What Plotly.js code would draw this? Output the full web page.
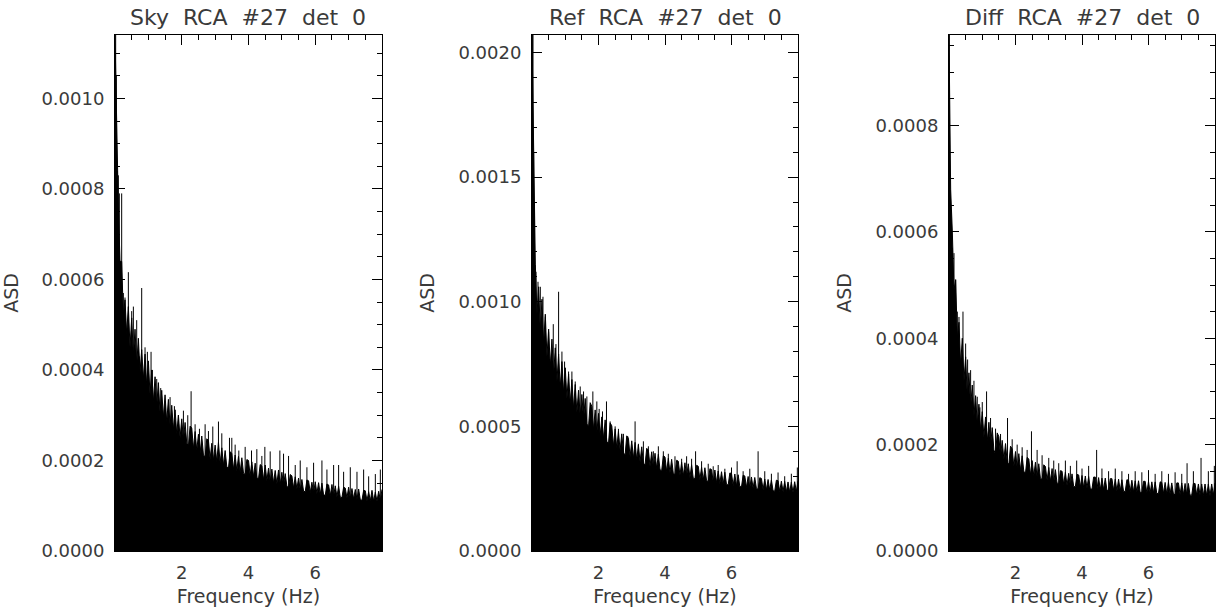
<!DOCTYPE html>
<html>
<head>
<meta charset="utf-8">
<script src="https://cdn.plot.ly/plotly-3.0.1.min.js"></script>
<style>
  html, body { margin: 0; padding: 0; background: #fff; }
  #chart { width: 1216px; height: 612px; }
</style>
</head>
<body>
<div id="chart"></div>
<script>
// ---------------- DATA (ASD in units of 1e-6) ----------------
const panelTitles = ["Sky\u00a0\u00a0RCA\u00a0\u00a0#27\u00a0\u00a0det\u00a0\u00a00",
                     "Ref\u00a0\u00a0RCA\u00a0\u00a0#27\u00a0\u00a0det\u00a0\u00a00",
                     "Diff\u00a0\u00a0RCA\u00a0\u00a0#27\u00a0\u00a0det\u00a0\u00a00"];
const xTitle = "Frequency (Hz)";
const yTitle = "ASD";
const freqTickVals = [2, 4, 6];
const freqTickText = ["2", "4", "6"];

// Ragged upper edge of the dense noise band, one value every 0.05 Hz from 0 to 8 Hz (x1e-6)
const coreStartHz = 0;
const coreStepHz = 0.05;
const skyCore = [
  1140, 900, 760, 640, 640, 520, 555, 480, 540, 450, 515, 430, 490, 410, 470, 395, 445, 380, 435, 365,
  420, 345, 400, 330, 385, 320, 372, 305, 355, 295, 345, 285, 335, 278, 322, 268, 312, 258, 300, 250,
  292, 244, 284, 238, 232, 276, 272, 226, 264, 222, 258, 216, 254, 212, 208, 248, 244, 204, 238, 200,
  234, 197, 240, 194, 228, 189, 222, 186, 183, 219, 216, 180, 212, 177, 209, 174, 206, 172, 169, 202,
  200, 167, 197, 164, 194, 162, 159, 191, 188, 157, 190, 155, 183, 153, 181, 150, 178, 148, 179, 147,
  174, 145, 171, 143, 140, 169, 166, 139, 164, 137, 161, 134, 158, 132, 131, 157, 155, 129, 152, 128,
  153, 127, 151, 125, 150, 124, 123, 148, 146, 122, 147, 121, 144, 120, 143, 119, 118, 141, 139, 117,
  141, 116, 138, 115, 136, 114, 137, 113, 112, 134, 133, 111, 131, 111, 134, 110, 130, 110, 132, 112,
  136];
const refCore = [
  2070, 1500, 1150, 950, 1060, 880, 1010, 830, 950, 780, 890, 740, 850, 705, 815, 680, 790, 655, 760, 635,
  735, 612, 710, 592, 688, 572, 668, 556, 645, 540, 628, 525, 612, 510, 498, 595, 580, 486, 566, 474,
  552, 462, 538, 450, 526, 440, 430, 514, 502, 420, 490, 412, 480, 403, 470, 394, 385, 462, 452, 378,
  442, 371, 436, 364, 426, 357, 418, 352, 346, 412, 404, 340, 398, 335, 392, 331, 388, 326, 322, 382,
  377, 318, 372, 314, 368, 311, 307, 364, 360, 304, 356, 301, 354, 298, 350, 295, 346, 292, 290, 344,
  340, 287, 336, 284, 334, 282, 279, 330, 327, 276, 325, 274, 321, 271, 318, 268, 316, 267, 265, 313,
  311, 263, 309, 260, 306, 259, 257, 304, 301, 255, 299, 253, 297, 252, 295, 250, 248, 294, 291, 246,
  289, 245, 287, 244, 285, 242, 240, 284, 282, 239, 280, 238, 279, 237, 277, 236, 276, 235, 278, 238,
  282];
const diffCore = [
  970, 680, 600, 490, 510, 400, 430, 350, 400, 320, 365, 290, 335, 270, 312, 254, 292, 238, 276, 226,
  262, 215, 252, 206, 242, 198, 232, 190, 182, 222, 215, 177, 208, 172, 202, 167, 163, 197, 192, 159,
  187, 156, 183, 152, 179, 150, 146, 176, 173, 143, 170, 141, 167, 139, 164, 136, 135, 162, 159, 133,
  157, 131, 155, 129, 153, 128, 126, 151, 150, 125, 148, 123, 146, 122, 145, 121, 121, 144, 143, 120,
  142, 119, 141, 118, 140, 117, 116, 139, 139, 116, 138, 115, 137, 115, 137, 114, 114, 136, 136, 114,
  135, 113, 135, 113, 134, 112, 112, 134, 133, 112, 133, 111, 132, 111, 132, 110, 110, 131, 131, 109,
  131, 109, 130, 109, 130, 108, 108, 130, 129, 108, 129, 107, 129, 107, 128, 107, 106, 128, 128, 106,
  128, 106, 127, 106, 127, 105, 105, 127, 127, 105, 126, 105, 126, 104, 126, 104, 126, 104, 126, 105,
  128];

// Individual spectral spikes standing above the band (Hz, x1e-6)
const skySpikeHz = [0.02, 0.04, 0.07, 0.10, 0.13, 0.20, 0.25, 0.30, 0.40, 0.50, 0.55, 0.65, 0.73, 0.80, 0.90, 0.97,
  1.08, 1.12, 1.25, 1.37, 1.50, 1.65, 1.78, 1.90, 2.05, 2.18, 2.28, 2.40, 2.53, 2.70, 2.80, 2.93,
  3.10, 3.20, 3.43, 3.50, 3.60, 3.71, 3.90, 4.09, 4.25, 4.40, 4.49, 4.65, 4.94, 5.05, 5.20, 5.40,
  5.55, 5.75, 5.95, 6.20, 6.35, 6.55, 6.70, 6.85, 7.05, 7.25, 7.45, 7.60, 7.80, 7.95];
const skySpikeVal = [1140, 1050, 840, 830, 790, 790, 570, 560, 616, 530, 540, 510, 430, 581, 450, 440,
  440, 400, 380, 360, 330, 340, 320, 300, 310, 300, 353, 280, 270, 280, 265, 275,
  286, 260, 250, 250, 235, 222, 230, 222, 225, 210, 230, 220, 222, 215, 210, 190,
  200, 185, 195, 200, 180, 190, 190, 175, 185, 175, 180, 165, 170, 180];
const refSpikeHz = [0.01, 0.03, 0.05, 0.07, 0.09, 0.12, 0.18, 0.25, 0.33, 0.40, 0.50, 0.64, 0.72, 0.80, 0.90, 0.98,
  1.10, 1.20, 1.30, 1.45, 1.55, 1.65, 1.83, 1.95, 2.02, 2.12, 2.24, 2.35, 2.50, 2.60, 2.75, 2.88,
  3.10, 3.20, 3.35, 3.50, 3.65, 3.80, 3.95, 4.10, 4.30, 4.50, 4.65, 4.80, 4.92, 5.10, 5.30, 5.45,
  5.60, 5.80, 6.00, 6.17, 6.35, 6.55, 6.80, 7.00, 7.20, 7.40, 7.60, 7.80, 7.98];
const refSpikeVal = [2070, 2070, 1600, 1400, 1150, 1120, 1080, 1060, 1020, 940, 880, 910, 830, 1040, 800, 760,
  720, 720, 680, 660, 640, 620, 640, 600, 570, 560, 600, 520, 500, 490, 470, 460,
  520, 430, 440, 420, 400, 420, 400, 390, 380, 370, 380, 370, 400, 360, 350, 340,
  345, 330, 335, 360, 320, 330, 400, 320, 310, 315, 300, 310, 335];
const diffSpikeHz = [0.01, 0.03, 0.06, 0.10, 0.15, 0.20, 0.25, 0.30, 0.42, 0.50, 0.56, 0.65, 0.75, 0.85, 0.93, 1.00,
  1.13, 1.25, 1.40, 1.55, 1.76, 1.90, 2.05, 2.20, 2.35, 2.48, 2.65, 2.80, 3.00, 3.15, 3.30, 3.50,
  3.65, 3.84, 4.00, 4.20, 4.44, 4.60, 4.80, 5.00, 5.20, 5.40, 5.60, 5.80, 6.00, 6.20, 6.40, 6.60,
  6.80, 7.00, 7.16, 7.35, 7.58, 7.80, 7.98];
const diffSpikeVal = [970, 680, 640, 570, 560, 510, 450, 440, 450, 390, 360, 340, 320, 290, 270, 280,
  300, 250, 230, 220, 250, 210, 200, 195, 190, 225, 190, 180, 175, 170, 165, 170,
  160, 170, 155, 160, 190, 155, 150, 155, 150, 145, 150, 148, 152, 145, 150, 145,
  148, 145, 165, 150, 175, 150, 160];
const unitScale = 1e-6;

// Axis ranges
const xRange = [0, 8];
const yMax = [0.00114, 0.00207, 0.00097];
const yDtick = [0.0002, 0.0005, 0.0002];
const yMinorDtick = [0.00005, 0.0001, 0.00005];

// ---------------- BUILD ----------------
const W = 1216;
const domains = [[115 / W, 382 / W], [532 / W, 798 / W], [949 / W, 1215 / W]];
const cores = [skyCore, refCore, diffCore];
const spikeHz = [skySpikeHz, refSpikeHz, diffSpikeHz];
const spikeVal = [skySpikeVal, refSpikeVal, diffSpikeVal];

const tickFont = { family: "DejaVu Sans, sans-serif", size: 18, color: "#3a3a3a" };
const titleFont = { family: "DejaVu Sans, sans-serif", size: 19, color: "#3a3a3a" };
const headFont = { family: "DejaVu Sans, sans-serif", size: 22, color: "#3a3a3a" };

const traces = [];
const layout = {
  width: 1216, height: 612,
  margin: { l: 0, r: 0, t: 35, b: 61, pad: 0 },
  paper_bgcolor: "#fff", plot_bgcolor: "#fff",
  showlegend: false,
  annotations: []
};

for (let p = 0; p < 3; p++) {
  const sfx = p === 0 ? "" : String(p + 1);
  const xa = "x" + sfx, ya = "y" + sfx;
  // dense noise band
  traces.push({
    type: "scatter", mode: "lines", xaxis: xa, yaxis: ya,
    x0: coreStartHz, dx: coreStepHz,
    y: cores[p].map(v => v * unitScale),
    fill: "tozeroy", fillcolor: "#000",
    line: { color: "#000", width: 1 },
    hoverinfo: "skip"
  });
  // spikes
  const sx = [], sy = [];
  spikeHz[p].forEach((f, i) => { sx.push(f, f, null); sy.push(0, spikeVal[p][i] * unitScale, null); });
  traces.push({
    type: "scatter", mode: "lines", xaxis: xa, yaxis: ya,
    x: sx, y: sy, connectgaps: false,
    line: { color: "#000", width: 1 },
    hoverinfo: "skip"
  });

  layout["xaxis" + sfx] = {
    domain: domains[p], anchor: ya, range: xRange,
    tickmode: "array", tickvals: freqTickVals, ticktext: freqTickText,
    ticks: "inside", ticklen: 10, tickwidth: 1, tickcolor: "#000",
    minor: { dtick: 0.5, tick0: 0, ticks: "inside", ticklen: 5, tickwidth: 1, tickcolor: "#000", showgrid: false },
    showline: true, linecolor: "#000", linewidth: 1, mirror: "allticks",
    showgrid: false, zeroline: false, tickfont: tickFont, ticklabelstandoff: 5,
    title: { text: xTitle, font: titleFont, standoff: 8 },
    fixedrange: true
  };
  layout["yaxis" + sfx] = {
    domain: [0, 1], anchor: xa, range: [0, yMax[p]],
    tickmode: "linear", tick0: 0, dtick: yDtick[p], tickformat: ".4f",
    ticks: "inside", ticklen: 10, tickwidth: 1, tickcolor: "#000",
    minor: { dtick: yMinorDtick[p], tick0: 0, ticks: "inside", ticklen: 5, tickwidth: 1, tickcolor: "#000", showgrid: false },
    showline: true, linecolor: "#000", linewidth: 1, mirror: "allticks",
    showgrid: false, zeroline: false, tickfont: tickFont, ticklabelstandoff: 6,
    title: { text: yTitle, font: titleFont, standoff: 18 },
    fixedrange: true
  };
  layout.annotations.push({
    xref: "paper", yref: "paper",
    x: (domains[p][0] + domains[p][1]) / 2, y: 1,
    xanchor: "center", yanchor: "bottom", yshift: 3,
    text: panelTitles[p], showarrow: false, font: headFont
  });
}

Plotly.newPlot("chart", traces, layout, { staticPlot: true, displayModeBar: false });
</script>
</body>
</html>
